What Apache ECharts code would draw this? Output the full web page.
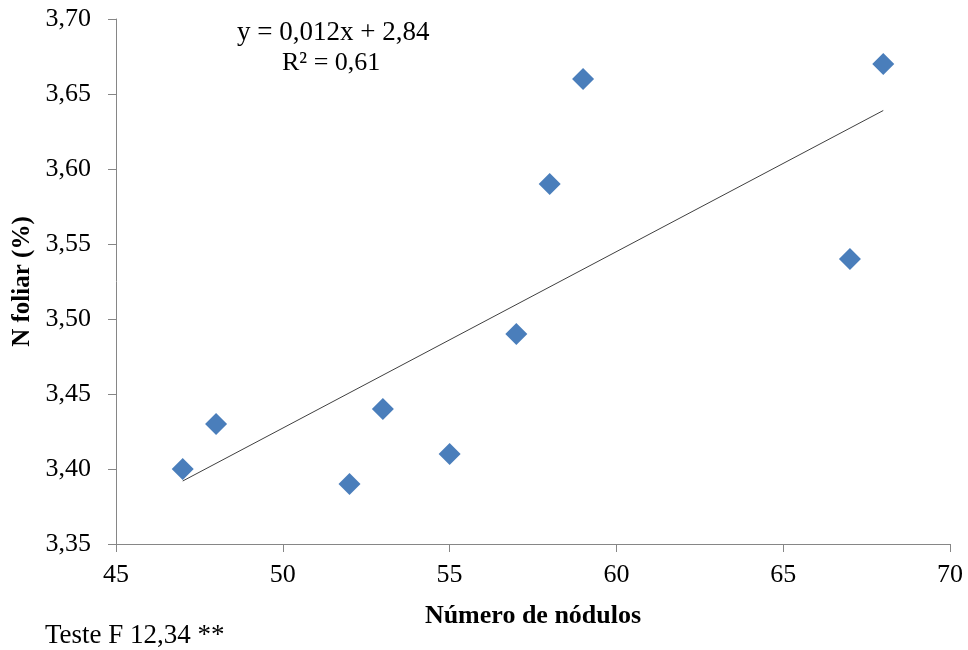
<!DOCTYPE html>
<html><head><meta charset="utf-8">
<script src="https://cdn.jsdelivr.net/npm/echarts@6/dist/echarts.min.js"></script>
<style>html,body{margin:0;padding:0;background:#fff}#c{width:968px;height:650px}</style>
</head><body><div id="c"></div>
<script>
const nodulos = [47, 48, 52, 53, 55, 57, 58, 59, 67, 68];
const nFoliar = [3.40, 3.43, 3.39, 3.44, 3.41, 3.49, 3.59, 3.66, 3.54, 3.67];
const trendX = [47, 68];
const trendY = [3.392, 3.639];
const xTitle = 'Número de nódulos';
const yTitle = 'N foliar (%)';
const eqText = 'y = 0,012x + 2,84';
const r2Text = 'R² = 0,61';
const footText = 'Teste F 12,34 **';

const font = 'Liberation Serif';
const chart = echarts.init(document.getElementById('c'));
chart.setOption({
  backgroundColor: '#fff',
  animation: false,
  grid: {left: 116, right: 18, top: 19, bottom: 106},
  xAxis: {
    type: 'value', min: 45, max: 70, interval: 5,
    name: xTitle, nameLocation: 'middle', nameGap: 59,
    nameTextStyle: {fontFamily: font, fontSize: 26, fontWeight: 'bold', color: '#000'},
    axisLine: {show: true, lineStyle: {color: '#868686', width: 1}},
    axisTick: {show: true, length: 8, lineStyle: {color: '#868686'}},
    axisLabel: {fontFamily: font, fontSize: 26, color: '#000', margin: 18},
    splitLine: {show: false}
  },
  yAxis: {
    type: 'value', min: 3.35, max: 3.70, interval: 0.05,
    name: yTitle, nameLocation: 'middle', nameGap: 77, nameRotate: 90,
    nameTextStyle: {fontFamily: font, fontSize: 25, fontWeight: 'bold', color: '#000'},
    axisLine: {show: true, lineStyle: {color: '#868686', width: 1}},
    axisTick: {show: true, length: 8, lineStyle: {color: '#868686'}},
    axisLabel: {fontFamily: font, fontSize: 26, color: '#000', margin: 25,
      formatter: v => v.toFixed(2).replace('.', ',')},
    splitLine: {show: false}
  },
  series: [
    {
      type: 'line', data: trendX.map((x, i) => [x, trendY[i]]),
      symbol: 'none', lineStyle: {color: '#404040', width: 1}, z: 2
    },
    {
      type: 'scatter', data: nodulos.map((x, i) => [x, nFoliar[i]]),
      symbol: 'diamond', symbolSize: 22,
      itemStyle: {color: '#4A7EBB', opacity: 1}, z: 3
    }
  ],
  graphic: [
    {type: 'text', left: 237, top: 19, style: {text: eqText, fontFamily: font, fontSize: 27, fill: '#000'}},
    {type: 'text', left: 282, top: 50, style: {text: r2Text, fontFamily: font, fontSize: 26, fill: '#000'}},
    {type: 'text', left: 45, top: 622, style: {text: footText, fontFamily: font, fontSize: 27, fill: '#000'}}
  ]
});
</script></body></html>
